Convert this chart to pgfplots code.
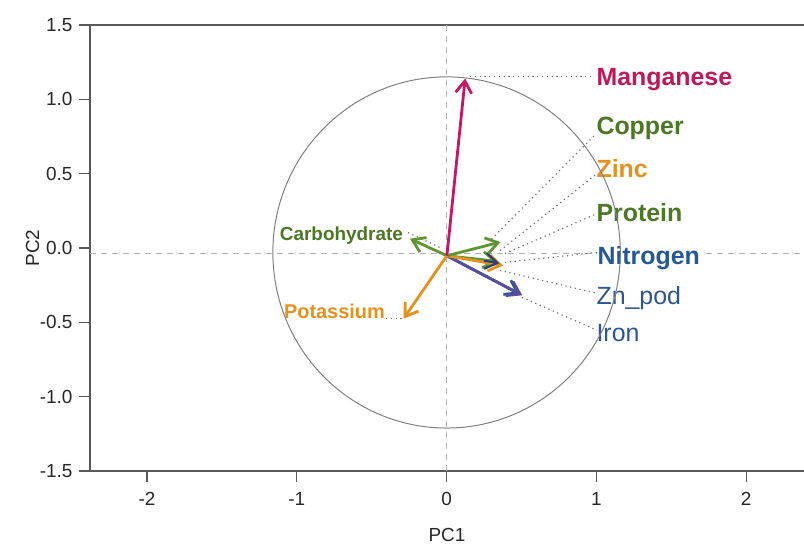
\documentclass[border=0pt]{standalone}
\usepackage{pgfplots}
\pgfplotsset{compat=1.18}
\usepackage{fontspec}
\setmainfont{Liberation Sans}
\usetikzlibrary{arrows.meta}
\definecolor{mn}{RGB}{190,24,88}
\definecolor{mnarrow}{RGB}{200,22,100}
\definecolor{grn}{RGB}{75,120,35}
\definecolor{grnarrow}{RGB}{95,150,50}
\definecolor{org}{RGB}{230,145,30}
\definecolor{nblue}{RGB}{35,90,150}
\definecolor{zblue}{RGB}{45,85,145}
\definecolor{navy}{RGB}{45,65,120}
\definecolor{purp}{RGB}{88,78,158}
\definecolor{axgray}{RGB}{90,90,90}
\begin{document}
\begin{tikzpicture}
\begin{axis}[
  scale only axis, width=716bp, height=446bp,
  xmin=-2.381, xmax=2.400, ymin=-1.5, ymax=1.5,
  clip=false,
  tick pos=left, tick align=outside,
  major tick length=11bp,
  axis line style={axgray, line width=1.2bp},
  tick style={axgray, line width=1.2bp},
  xtick={-2,-1,0,1,2}, xticklabels={-2,-1,0,1,2},
  ytick={-1.5,-1,-0.5,0,0.5,1,1.5},
  yticklabels={-1.5,-1.0,-0.5,0.0,0.5,1.0,1.5},
  tick label style={font=\fontsize{19}{22}\selectfont, text=black!85},
  xticklabel style={yshift=-7bp},
  yticklabel style={xshift=-3bp},
  xlabel={PC1}, ylabel={PC2},
  label style={font=\fontsize{19}{22}\selectfont, text=black!85},
  xlabel style={at={(axis description cs:0.4986,-0.143)}, anchor=center},
  ylabel style={at={(axis description cs:-0.080,0.5)}, anchor=center, rotate=0},
  /pgf/number format/assume math mode=true,
]
% reference lines
\addplot[black!30, dashed, dash pattern=on 6bp off 5bp, line width=1bp] coordinates {(0,-1.5) (0,1.5)};
\addplot[black!30, dashed, dash pattern=on 6bp off 5bp, line width=1bp] coordinates {(-2.381,-0.039) (2.400,-0.039)};
% dotted leader lines
\pgfplotsset{leader/.style={black!55, line width=1.2bp, dash pattern=on 1.2bp off 3.6bp}}
\addplot[leader] coordinates {(0.157,1.151) (0.972,1.151)};
\addplot[leader] coordinates {(0.30,0.06) (1.0,0.77)};
\addplot[leader] coordinates {(0.357,-0.017) (1.005,0.50)};
\addplot[leader] coordinates {(0.39,-0.037) (1.005,0.232)};
\addplot[leader] coordinates {(0.39,-0.097) (1.005,-0.03)};
\addplot[leader] coordinates {(0.357,-0.151) (1.005,-0.305)};
\addplot[leader] coordinates {(0.504,-0.332) (1.005,-0.554)};
\addplot[leader] coordinates {(-0.257,0.104) (-0.043,0.003)};
\addplot[leader] coordinates {(-0.404,-0.473) (-0.29,-0.473)};
% labels
\node[anchor=base west, inner sep=0pt, font=\fontsize{25}{30}\selectfont\bfseries, text=mn] at (axis cs:1.0,1.091) {Manganese};
\node[anchor=base west, inner sep=0pt, font=\fontsize{25}{30}\selectfont\bfseries, text=grn] at (axis cs:1.0,0.762) {Copper};
\node[anchor=base west, inner sep=0pt, font=\fontsize{25}{30}\selectfont\bfseries, text=org] at (axis cs:1.0,0.473) {Zinc};
\node[anchor=base west, inner sep=0pt, font=\fontsize{25}{30}\selectfont\bfseries, text=grn] at (axis cs:1.0,0.178) {Protein};
\node[anchor=base west, inner sep=1bp, fill=white, font=\fontsize{25}{30}\selectfont\bfseries, text=nblue] at (axis cs:1.0,-0.111) {Nitrogen};
\node[anchor=base west, inner sep=0pt, font=\fontsize{25}{30}\selectfont, text=zblue] at (axis cs:1.0,-0.379) {Zn\_pod};
\node[anchor=base west, inner sep=0pt, font=\fontsize{25}{30}\selectfont, text=zblue] at (axis cs:1.0,-0.628) {Iron};
\node[anchor=base east, inner sep=0pt, font=\fontsize{19}{22}\selectfont\bfseries, text=grn] at (axis cs:-0.290,0.050) {Carbohydrate};
\node[anchor=base east, inner sep=0pt, font=\fontsize{20}{24}\selectfont\bfseries, text=org] at (axis cs:-0.411,-0.473) {Potassium};
% correlation circle
\draw[black!50, line width=1bp] (axis cs:0,-0.03) ellipse [x radius=1.16, y radius=1.181];
% arrows
\pgfplotsset{vec/.style={line width=2.8bp, -{Straight Barb[length=12bp, width=16bp]}}}
\addplot[vec, grnarrow] coordinates {(0.002,-0.052) (0.34,-0.09)};
\addplot[vec, zblue] coordinates {(0.002,-0.052) (0.49,-0.31)};
\addplot[vec, purp] coordinates {(0.002,-0.052) (0.505,-0.318)};
\addplot[vec, org] coordinates {(0.002,-0.052) (0.378,-0.118)};
\addplot[vec, navy, line width=2.2bp] coordinates {(0.25,-0.085) (0.352,-0.103)};
\addplot[vec, grnarrow] coordinates {(0.002,-0.052) (0.36,0.04)};
\addplot[vec, grnarrow] coordinates {(0.002,-0.052) (-0.244,0.062)};
\addplot[vec, org] coordinates {(0.002,-0.052) (-0.287,-0.475)};
\addplot[vec, mnarrow] coordinates {(0.002,-0.052) (0.124,1.14)};
\end{axis}
\pgfresetboundingbox
\path[use as bounding box] ([xshift=-90bp,yshift=-73bp]current axis.south west) rectangle ([xshift=714bp,yshift=25bp]current axis.north west);
\end{tikzpicture}
\end{document}
